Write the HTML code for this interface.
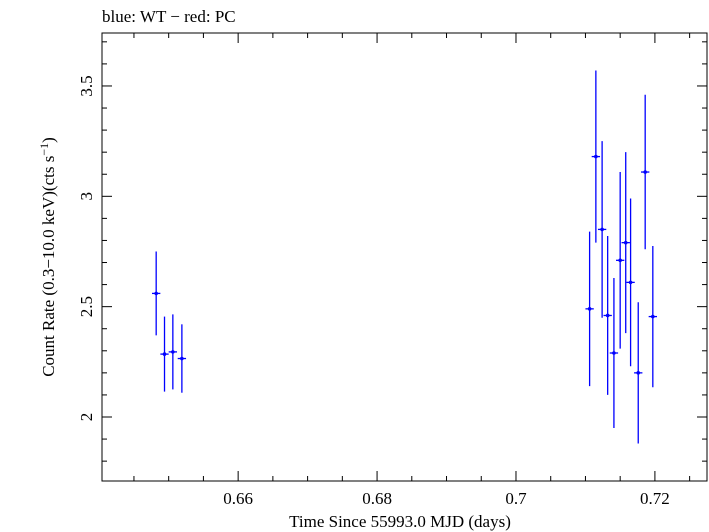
<!DOCTYPE html>
<html><head><meta charset="utf-8"><style>
body{margin:0;background:#fff;}
svg{display:block;font-family:"Liberation Serif",serif;}
</style></head><body>
<svg id="chart" width="709" height="532" viewBox="0 0 709 532" xmlns="http://www.w3.org/2000/svg">
<text x="102" y="22" font-size="17">blue: WT − red: PC</text>
<rect x="102" y="33" width="605" height="448" fill="none" stroke="#000" stroke-width="1"/>
<g id="axes"></g>
<g id="marks"></g>
<text x="400" y="527" font-size="17" text-anchor="middle">Time Since 55993.0 MJD (days)</text>
<text transform="translate(54,257) rotate(-90)" font-size="17" text-anchor="middle">Count Rate (0.3−10.0 keV)(cts s<tspan dy="-6" font-size="12">−1</tspan><tspan dy="6">)</tspan></text>
</svg>
<script>
const times=[0.6482,0.6494,0.6506,0.6519,0.7106,0.7115,0.7124,0.7132,0.7141,0.7150,0.7158,0.7165,0.7176,0.7186,0.7197];
const rates=[2.56,2.285,2.295,2.265,2.49,3.18,2.85,2.46,2.29,2.71,2.79,2.61,2.20,3.11,2.455];
const errs=[0.19,0.17,0.17,0.155,0.35,0.39,0.4,0.36,0.34,0.4,0.41,0.38,0.32,0.35,0.32];
const xTicks=[0.66,0.68,0.7,0.72];
const xTickLabels=["0.66","0.68","0.7","0.72"];
const yTicks=[2,2.5,3,3.5];
const yTickLabels=["2","2.5","3","3.5"];
const xHalf=0.0006;
const L=102,R=707,T=33,B=481,x0=0.6404,x1=0.7275,y0=1.71,y1=3.74;
const sx=v=>L+(v-x0)/(x1-x0)*(R-L);
const sy=v=>B-(v-y0)/(y1-y0)*(B-T);
const NS="http://www.w3.org/2000/svg";
function mk(tag,attrs,parent){const e=document.createElementNS(NS,tag);for(const k in attrs)e.setAttribute(k,attrs[k]);parent.appendChild(e);return e;}
const ax=document.getElementById('axes'),mg=document.getElementById('marks');
for(let v=0.645;v<=0.7275;v+=0.005){const x=sx(v);const major=xTicks.some(t=>Math.abs(t-v)<1e-6);const l=major?10:5;
 const a=mk('line',{x1:x,x2:x,y1:B,y2:B-l,stroke:'#000'},ax);
 const b=mk('line',{x1:x,x2:x,y1:T,y2:T+l,stroke:'#000'},ax);}
xTicks.forEach((v,i)=>{const t=mk('text',{x:sx(v),y:504,'font-size':17,'text-anchor':'middle'},ax);t.textContent=xTickLabels[i];
 });
for(let v=1.8;v<=3.74;v+=0.1){const y=sy(v);const major=yTicks.some(t=>Math.abs(t-v)<1e-6);const l=major?10:5;
 const a=mk('line',{x1:L,x2:L+l,y1:y,y2:y,stroke:'#000'},ax);
 const b=mk('line',{x1:R,x2:R-l,y1:y,y2:y,stroke:'#000'},ax);}
yTicks.forEach((v,i)=>{const t=mk('text',{transform:`translate(92,${sy(v)}) rotate(-90)`,'font-size':17,'text-anchor':'middle'},ax);t.textContent=yTickLabels[i];
 });
times.forEach((t,i)=>{const g=mk('g',{},mg);
 
 
 mk('line',{x1:sx(t),x2:sx(t),y1:sy(rates[i]+errs[i]),y2:sy(rates[i]-errs[i]),stroke:'#0000ff','stroke-width':1.3},g);
 mk('line',{x1:sx(t-xHalf),x2:sx(t+xHalf),y1:sy(rates[i]),y2:sy(rates[i]),stroke:'#0000ff','stroke-width':1.3},g);
 mk('circle',{cx:sx(t),cy:sy(rates[i]),r:1.8,fill:'#0000ff'},g);});
</script>
</body></html>
